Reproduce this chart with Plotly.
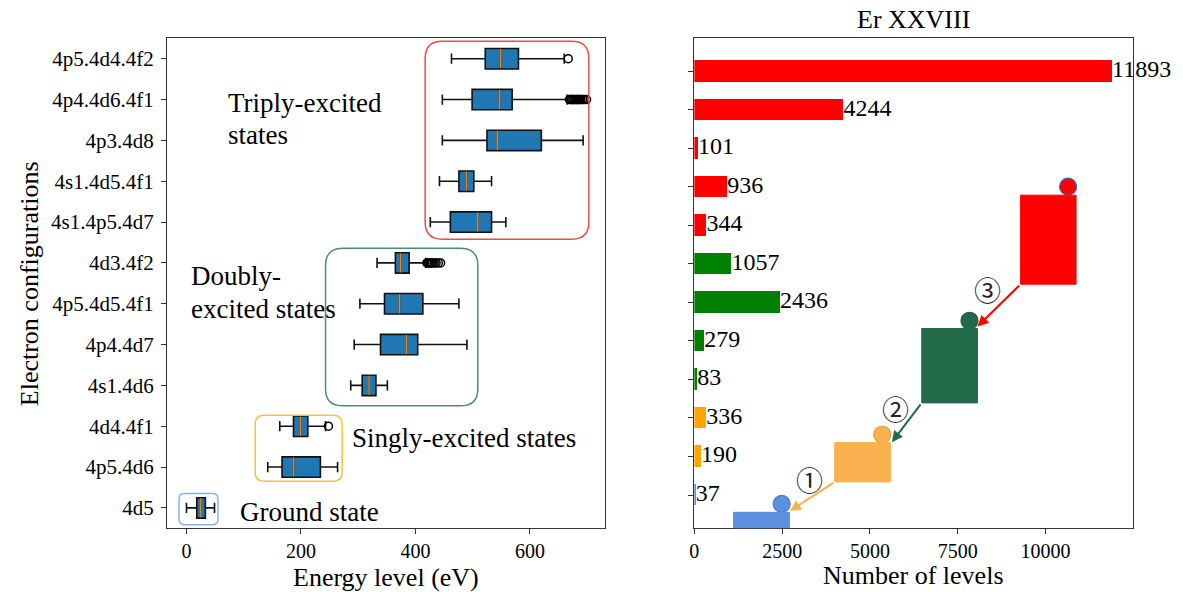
import plotly.graph_objects as go

# Electron configurations, bottom to top
configs = ["4d5", "4p5.4d6", "4d4.4f1", "4s1.4d6", "4p4.4d7", "4p5.4d5.4f1",
           "4d3.4f2", "4s1.4p5.4d7", "4s1.4d5.4f1", "4p3.4d8", "4p4.4d6.4f1", "4p5.4d4.4f2"]
positions = list(range(1, len(configs) + 1))

# Energy-level distribution per configuration (eV)
e_low = [0, 142, 163, 287, 293, 303, 333, 426, 442, 447, 447, 463]
e_q1 = [18, 167, 187, 307, 339, 346, 365, 461, 476, 525, 499, 522]
e_med = [25, 187, 199, 319, 384, 372, 374, 509, 489, 543, 547, 549]
e_q3 = [33, 234, 212, 331, 404, 413, 389, 533, 502, 620, 569, 580]
e_high = [49, 264, 243, 351, 490, 476, 418, 558, 533, 693, 665, 660]

# Outlying levels
outlier_cfg = ["4d4.4f1"] + ["4d3.4f2"] * 10 + ["4p4.4d6.4f1"] * 14 + ["4p5.4d4.4f2"]
outlier_val = [248,
               420, 422, 424, 426, 428, 430, 433, 436, 440, 444,
               669, 671, 673, 675, 677, 679, 681, 683, 685, 687, 689, 692, 695, 699,
               667]

# Number of levels in each configuration (Er XXVIII)
n_levels = [37, 190, 336, 83, 279, 2436, 1057, 344, 936, 101, 4244, 11893]
bar_colors = ["#5B8FDF", "#FFA500", "#FFA500", "#008000", "#008000", "#008000",
              "#008000", "#FF0000", "#FF0000", "#FF0000", "#FF0000", "#FF0000"]

left_xticks = [0, 200, 400, 600]
right_xticks = [0, 2500, 5000, 7500, 10000]

SERIF = "Liberation Serif, Times New Roman, serif"
W, H = 1183, 592

# plot areas in pixels
L0, L1 = 162.7, 603.0
R0, R1 = 692.3, 1132.7
T0, B0 = 38.3, 528.3
ydom = [(H - B0) / H, (H - T0) / H]

fig = go.Figure()

pos_of = {c: p for c, p in zip(configs, positions)}

fig.add_trace(go.Box(
    y=positions, q1=e_q1, median=e_med, q3=e_q3,
    lowerfence=e_low, upperfence=e_high,
    orientation="h", boxpoints=False,
    fillcolor="#1f77b4", line=dict(color="#111", width=1.6),
    width=0.5, whiskerwidth=0.5,
    xaxis="x", yaxis="y", showlegend=False, hoverinfo="skip",
))

# orange median lines
mx, my = [], []
for p, m in zip(positions, e_med):
    mx += [m, m, None]
    my += [p - 0.235, p + 0.235, None]
fig.add_trace(go.Scatter(x=mx, y=my, mode="lines",
                         line=dict(color="#ff7f0e", width=1.5),
                         xaxis="x", yaxis="y", showlegend=False, hoverinfo="skip"))

fig.add_trace(go.Scatter(
    x=outlier_val, y=[pos_of[c] for c in outlier_cfg], mode="markers",
    marker=dict(symbol="circle-open", size=8, color="black", line=dict(width=1.5)),
    xaxis="x", yaxis="y", showlegend=False, hoverinfo="skip"))

# bars of level counts
fig.add_trace(go.Bar(
    x=n_levels, y=positions, orientation="h", width=0.56,
    marker=dict(color=bar_colors, line=dict(width=0)),
    xaxis="x2", yaxis="y2", showlegend=False, hoverinfo="skip"))
fig.add_trace(go.Scatter(
    x=n_levels, y=positions, mode="text", text=[str(v) for v in n_levels],
    textposition="middle right", textfont=dict(family=SERIF, size=24, color="black"),
    cliponaxis=False, xaxis="x2", yaxis="y2", showlegend=False, hoverinfo="skip"))


def rounded(x0, x1, y0, y1, rx, ry):
    return (f"M {x0 + rx},{y0} L {x1 - rx},{y0} Q {x1},{y0} {x1},{y0 + ry} "
            f"L {x1},{y1 - ry} Q {x1},{y1} {x1 - rx},{y1} "
            f"L {x0 + rx},{y1} Q {x0},{y1} {x0},{y1 - ry} "
            f"L {x0},{y0 + ry} Q {x0},{y0} {x0 + rx},{y0} Z")


shapes = []
groups = [
    (417, 703, 7.58, 12.43, 30, 0.42, "#EE4B4B"),
    (243, 509, 3.50, 7.36, 30, 0.42, "#4F8C70"),
    (120, 272, 1.65, 3.27, 16, 0.22, "#F6C143"),
    (-13, 55, 0.59, 1.35, 9, 0.13, "#8DB1EA"),
]
for x0, x1, y0, y1, rx, ry, col in groups:
    shapes.append(dict(type="path", path=rounded(x0, x1, y0, y1, rx, ry),
                       xref="x", yref="y", line=dict(color=col, width=1.5),
                       fillcolor="rgba(0,0,0,0)"))

# staircase sketch on the right panel
steps = [
    (1117, 2704, 0.14, 0.55, "#5B8FDF"),
    (3997, 5584, 1.34, 2.36, "#F9B24F"),
    (6474, 8061, 3.39, 5.32, "#216B4B"),
    (9289, 10868, 6.47, 8.78, "#FF0000"),
]
for x0, x1, y0, y1, col in steps:
    shapes.append(dict(type="rect", x0=x0, x1=x1, y0=y0, y1=y1, xref="x2", yref="y2",
                       fillcolor=col, line=dict(color=col, width=1)))

dots_x = [2486, 5349, 7834, 10641]
dots_y = [0.77, 2.57, 5.52, 9.0]
dot_fill = ["#5B8FDF", "#F9B24F", "#216B4B", "#FF0000"]
dot_edge = ["#4A78C0", "#E8A040", "#1A5A3E", "#4A5FA8"]
fig.add_trace(go.Scatter(
    x=dots_x, y=dots_y, mode="markers",
    marker=dict(size=17, color=dot_fill, line=dict(color=dot_edge, width=1.2)),
    xaxis="x2", yaxis="y2", showlegend=False, hoverinfo="skip", cliponaxis=False))

annotations = []
arrows = [
    ((3997, 1.34), (2721, 0.585), "#F9B24F"),
    ((6474, 3.39), (5624, 2.37), "#216B4B"),
    ((9289, 6.47), (8061, 5.37), "#FF0000"),
]
for (tx, ty), (hx, hy), col in arrows:
    annotations.append(dict(x=hx, y=hy, ax=tx, ay=ty, xref="x2", yref="y2",
                            axref="x2", ayref="y2", text="", showarrow=True,
                            arrowhead=2, arrowsize=1.1, arrowwidth=2, arrowcolor=col,
                            standoff=0, startstandoff=0))

for label, x, y in [("①", 3288, 1.35), ("②", 5717, 3.2), ("③", 8345, 6.27)]:
    annotations.append(dict(x=x, y=y, xref="x2", yref="y2", text=label, showarrow=False,
                            xanchor="center", yanchor="middle",
                            font=dict(family="DejaVu Serif, Noto Sans CJK SC", size=27,
                                      color="#222")))

# group labels on the left panel
for txt, x, y in [("Triply-excited", 69, 10.91), ("states", 69, 10.13),
                  ("Doubly-", 5, 6.67), ("excited states", 5, 5.88),
                  ("Singly-excited states", 286, 2.71), ("Ground state", 90, 0.9)]:
    annotations.append(dict(x=x, y=y, xref="x", yref="y", text=txt, showarrow=False,
                            xanchor="left", yanchor="middle",
                            font=dict(family=SERIF, size=27, color="black")))

# titles
title_font = dict(family=SERIF, size=26, color="black")
annotations += [
    dict(x=(L0 + L1) / 2 / W, y=(H - 577) / H, xref="paper", yref="paper",
         xanchor="center", yanchor="middle",
         text="Energy level (eV)", showarrow=False, font=title_font),
    dict(x=(R0 + R1) / 2 / W, y=(H - 575) / H, xref="paper", yref="paper",
         xanchor="center", yanchor="middle",
         text="Number of levels", showarrow=False, font=title_font),
    dict(x=24 / W, y=(H - (T0 + B0) / 2) / H, xref="paper", yref="paper",
         xanchor="center", yanchor="middle",
         text="Electron configurations", showarrow=False, textangle=-90, font=title_font),
    dict(x=(R0 + R1) / 2 / W, y=(H - 20) / H, xref="paper", yref="paper",
         xanchor="center", yanchor="middle",
         text="Er XXVIII", showarrow=False, font=title_font),
]

axis_common = dict(showline=True, linecolor="#333", linewidth=1.3, mirror=True,
                   ticks="outside", ticklen=5, tickcolor="#333", tickwidth=1.2,
                   showgrid=False, zeroline=False,
                   tickfont=dict(family=SERIF, size=20, color="black"))

fig.update_layout(
    width=W, height=H, margin=dict(l=0, r=0, t=0, b=0),
    paper_bgcolor="white", plot_bgcolor="white",
    xaxis=dict(domain=[L0 / W, L1 / W], range=[-34, 732], tickvals=left_xticks,
               ticktext=[str(v) for v in left_xticks], anchor="y", **axis_common),
    yaxis=dict(domain=ydom, range=[0.5, 12.5], tickvals=positions, ticktext=configs,
               anchor="x", ticklabelstandoff=3,
               **{**axis_common, "tickfont": dict(family=SERIF, size=21, color="black")}),
    xaxis2=dict(domain=[R0 / W, R1 / W], range=[0, 12487], tickvals=right_xticks,
                ticktext=[str(v) for v in right_xticks], anchor="y2", **axis_common),
    yaxis2=dict(domain=ydom, range=[0.136, 12.85], tickvals=positions,
                showticklabels=False, anchor="x2", **axis_common),
    shapes=shapes, annotations=annotations,
    bargap=0,
)

fig.write_html("out.html")
